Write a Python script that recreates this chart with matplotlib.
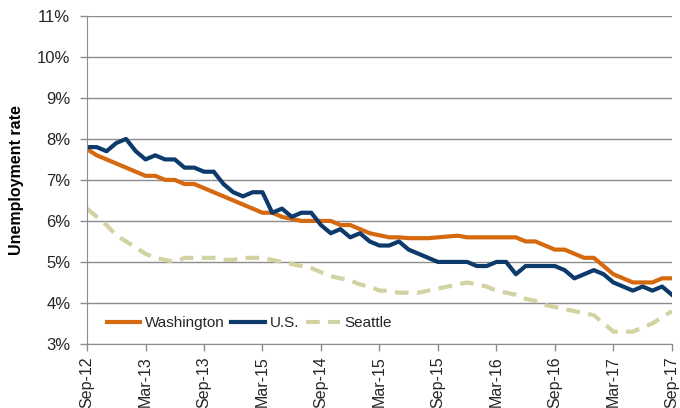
import numpy as np
import matplotlib
matplotlib.use("Agg")
import matplotlib.pyplot as plt

plt.rcParams['font.family'] = ['Liberation Sans', 'DejaVu Sans']

# monthly, Sep-12 .. Sep-17
tick_labels = ['Sep-12', 'Mar-13', 'Sep-13', 'Mar-15', 'Sep-14', 'Mar-15',
               'Sep-15', 'Mar-16', 'Sep-16', 'Mar-17', 'Sep-17']

washington = [7.75, 7.6, 7.5, 7.4, 7.3, 7.2, 7.1, 7.1, 7.0, 7.0, 6.9, 6.9,
              6.8, 6.7, 6.6, 6.5, 6.4, 6.3, 6.2, 6.2, 6.1, 6.05, 6.0, 6.0,
              6.0, 6.0, 5.9, 5.9, 5.8, 5.7, 5.65, 5.6, 5.6, 5.58, 5.58, 5.58,
              5.6, 5.62, 5.64, 5.6, 5.6, 5.6, 5.6, 5.6, 5.6, 5.5, 5.5, 5.4,
              5.3, 5.3, 5.2, 5.1, 5.1, 4.9, 4.7, 4.6, 4.5, 4.5, 4.5, 4.6, 4.6]

us = [7.8, 7.8, 7.7, 7.9, 8.0, 7.7, 7.5, 7.6, 7.5, 7.5, 7.3, 7.3,
      7.2, 7.2, 6.9, 6.7, 6.6, 6.7, 6.7, 6.2, 6.3, 6.1, 6.2, 6.2,
      5.9, 5.7, 5.8, 5.6, 5.7, 5.5, 5.4, 5.4, 5.5, 5.3, 5.2, 5.1,
      5.0, 5.0, 5.0, 5.0, 4.9, 4.9, 5.0, 5.0, 4.7, 4.9, 4.9, 4.9,
      4.9, 4.8, 4.6, 4.7, 4.8, 4.7, 4.5, 4.4, 4.3, 4.4, 4.3, 4.4, 4.2]

seattle = [6.3, 6.1, 5.9, 5.65, 5.5, 5.35, 5.2, 5.1, 5.05, 5.0, 5.1, 5.1,
           5.1, 5.1, 5.05, 5.05, 5.1, 5.1, 5.1, 5.05, 5.0, 4.95, 4.9, 4.85,
           4.75, 4.65, 4.6, 4.55, 4.45, 4.4, 4.3, 4.3, 4.25, 4.25, 4.25, 4.3,
           4.35, 4.4, 4.45, 4.5, 4.45, 4.4, 4.3, 4.25, 4.2, 4.1, 4.05, 3.95,
           3.9, 3.85, 3.8, 3.75, 3.7, 3.5, 3.3, 3.3, 3.3, 3.4, 3.5, 3.65, 3.8]

months = np.arange(len(us))

fig = plt.figure(figsize=(6.8, 4.08), dpi=100)
ax = fig.add_axes([0.128, 0.157, 0.86, 0.804])

grid_col = '#8c8c8c'
text_col = '#262626'

ax.plot(months, washington, color='#D5690F', lw=3.0, label='Washington')
ax.plot(months, us, color='#0C3A6B', lw=3.0, label='U.S.')
ax.plot(months, seattle, color='#D3D2A2', lw=3.0, dashes=(3.3, 2.0),
        label='Seattle')

ax.set_xlim(0, 60)
ax.set_ylim(3, 11)
ax.set_yticks(np.arange(3, 12, 1))
ax.set_yticklabels([f'{v}%' for v in range(3, 12)])
ax.set_xticks(np.arange(0, 61, 6))
ax.set_xticklabels(tick_labels, rotation=90)

ax.grid(axis='y', color=grid_col, lw=1.0)
ax.set_axisbelow(True)
for side in ['top', 'right']:
    ax.spines[side].set_visible(False)
for side in ['left', 'bottom']:
    ax.spines[side].set_color(grid_col)
ax.tick_params(axis='both', colors=grid_col, labelcolor=text_col,
               length=5, width=1)
ax.tick_params(axis='y', labelsize=12, pad=7)
ax.tick_params(axis='x', labelsize=11.5, pad=4)

ax.set_ylabel('Unemployment rate', fontsize=11.5, fontweight='bold',
              color='black', labelpad=9)

ax.legend(loc='lower left', bbox_to_anchor=(0.01, 0.0), ncol=3,
          frameon=False, fontsize=11, handlelength=2.2, handletextpad=0.3,
          columnspacing=0.45, labelcolor=text_col)

fig.savefig('out.png', dpi=100)
